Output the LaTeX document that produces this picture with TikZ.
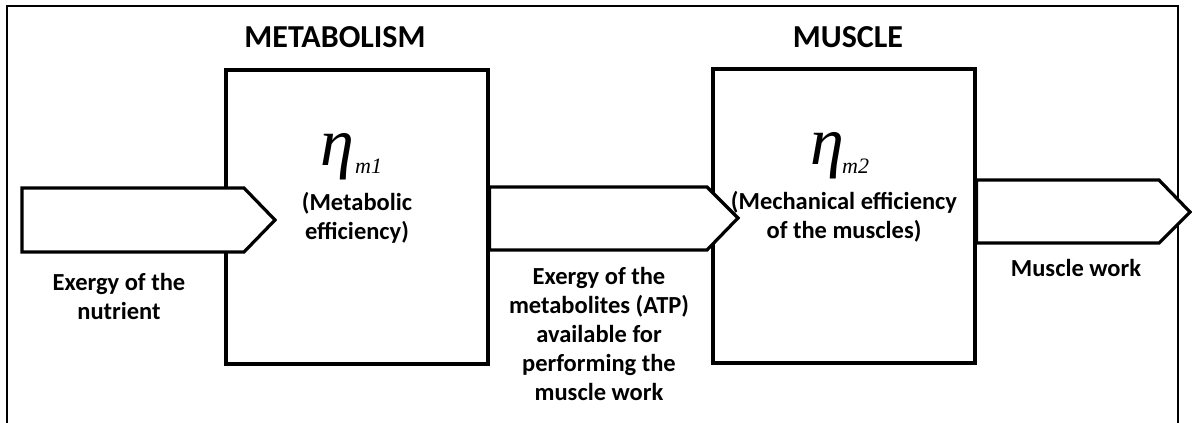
\documentclass[tikz,border=0pt]{standalone}
\usepackage{fontspec}
\setmainfont{Carlito}
\newfontfamily\etafont{Liberation Serif}
\begin{document}
\begin{tikzpicture}[x=1pt,y=-1pt,
  frameline/.style={line width=2pt},
  stagebox/.style={draw,line width=3.2pt,fill=white,rectangle,minimum width=262pt,minimum height=294pt,inner sep=0pt},
  flowarrow/.style={draw,line width=3.2pt,fill=white,line join=miter},
  title/.style={font=\fontsize{32}{36}\selectfont\bfseries,inner sep=0pt},
  lbl/.style={font=\fontsize{24.5}{29}\selectfont\bfseries,align=center,inner sep=0pt},
  eta/.style={font=\etafont\itshape\fontsize{68}{68}\selectfont,inner sep=0pt,anchor=base},
  etasub/.style={font=\etafont\itshape\fontsize{22}{22}\selectfont,inner sep=0pt,anchor=base west}]
\useasboundingbox (0,0) rectangle (1192,423);
% outer frame (open at the bottom)
\draw[frameline] (7,430) -- (7,6) -- (1178,6) -- (1178,430);
% stage boxes
\node[stagebox] (metab) at (357,217) {};
\node[stagebox] (musc) at (844,216) {};
% block arrows
\draw[flowarrow] (22,188) -- (244,188) -- (275,220) -- (244,252) -- (22,252) -- cycle;
\draw[flowarrow] (metab.east |- 0,187) -- (707,187) -- (738,218) -- (707,250) -- (metab.east |- 0,250) -- cycle;
\draw[flowarrow] (musc.east |- 0,180) -- (1159,180) -- (1190,212) -- (1159,243) -- (musc.east |- 0,243) -- cycle;
% titles
\node[title] (t1) at (335,37) {METABOLISM};
\node[title] (t2) at (848,37) {MUSCLE};
% efficiencies
\node[eta] (eta1) at (337,165) {η};
\node[etasub] (s1) at (355,173) {m1};
\node[eta] (eta2) at (827,164) {η};
\node[etasub] (s2) at (842,173) {m2};
\node[lbl] (e1) at (357,218) {(Metabolic\\efficiency)};
\node[lbl] (e2) at (844,217) {(Mechanical efficiency\\of the muscles)};
% flow labels
\node[lbl] (f1) at (119,296) {Exergy of the\\nutrient};
\node[lbl] (f2) at (599,334) {Exergy of the\\metabolites (ATP)\\available for\\performing the\\muscle work};
\node[lbl] (f3) at (1076,268) {Muscle work};
\end{tikzpicture}
\end{document}
